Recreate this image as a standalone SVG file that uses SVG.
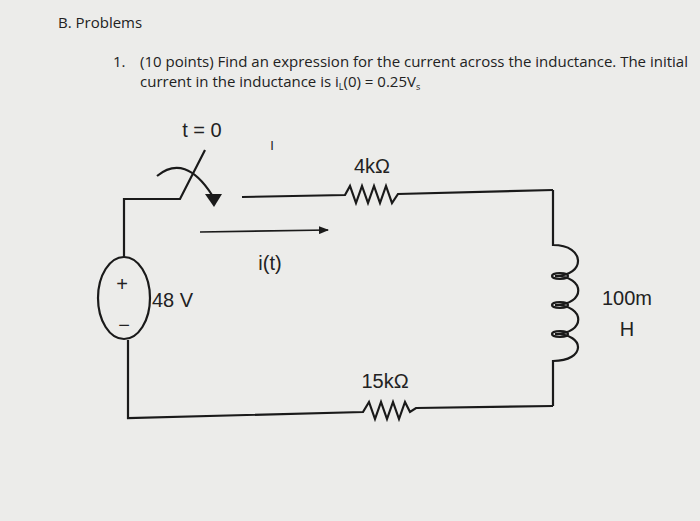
<svg xmlns="http://www.w3.org/2000/svg" width="700" height="521" viewBox="0 0 700 521">
<style>
.w{fill:none;stroke:#1a1a1a;stroke-width:2.2;stroke-linejoin:miter}
.t{font-family:"Liberation Sans",Arial,sans-serif;fill:#222}
.h{font-family:"Open Sans","Liberation Sans",sans-serif;fill:#222;font-size:15px}
</style>
<defs><marker id="ah" markerWidth="10" markerHeight="8" refX="9" refY="4" orient="auto" markerUnits="userSpaceOnUse"><path d="M0,0 L10,4 L0,8 Z" fill="#1a1a1a"/></marker></defs>
<rect width="700" height="521" fill="#ececea"/>
<text class="h" x="58" y="28">B. Problems</text>
<text class="h" x="113" y="67">1.</text>
<text class="h" x="140" y="67" textLength="548">(10 points) Find an expression for the current across the inductance. The initial</text>
<text class="h" x="140" y="87">current in the inductance is i<tspan font-size="9" dy="3">L</tspan><tspan dy="-3">(0) = 0.25V</tspan><tspan font-size="9" dy="3">s</tspan></text>
<text class="t" x="272" y="150" font-size="13" font-family="Liberation Serif,serif" text-anchor="middle">I</text>
<g id="source">
<ellipse class="w" cx="124" cy="298" rx="26" ry="41"/>
<text class="t" x="122" y="291" font-size="20" text-anchor="middle">+</text>
<text class="t" x="124" y="332" font-size="20" text-anchor="middle">−</text>
<text class="t" x="152" y="307" font-size="20">48 V</text>
</g>
<g id="switch">
<path class="w" d="M124,257 V199 H180 L205,150"/>
<path class="w" d="M157,176 Q185,153 212,195"/>
<path d="M205,194 L222,194 L214,207 Z" fill="#1a1a1a"/>
<text class="t" x="202" y="137" font-size="20" text-anchor="middle">t = 0</text>
</g>
<g id="r4k">
<path class="w" d="M242,197 L345,195 L350,186 L356,203 L362,186 L368,203 L374,186 L380,203 L386,186 L392,203 L398,194 L553,190"/>
<text class="t" x="372" y="173" font-size="20" text-anchor="middle">4kΩ</text>
</g>
<g id="inductor">
<path class="w" d="M553,190 V245 C586,245 586,276 555,276 C586,276 586,305 555,305 C586,305 586,334 555,334 C586,334 586,361 553,361 V406"/>
<ellipse class="w" cx="560" cy="276" rx="8" ry="3" stroke-width="1.6"/>
<ellipse class="w" cx="560" cy="305" rx="8" ry="3" stroke-width="1.6"/>
<ellipse class="w" cx="560" cy="334" rx="8" ry="3" stroke-width="1.6"/>
<text class="t" x="627" y="305" font-size="20" text-anchor="middle">100m</text>
<text class="t" x="627" y="336" font-size="20" text-anchor="middle">H</text>
</g>
<g id="r15k">
<path class="w" d="M553,406 L416,408 L410,412 L405,402 L399,419 L393,402 L387,419 L381,402 L375,419 L369,402 L363,412 L128,418 V340"/>
<text class="t" x="385" y="388" font-size="20" text-anchor="middle">15kΩ</text>
</g>
<g id="connectors">
<line x1="200" y1="232" x2="328" y2="230" stroke="#1a1a1a" stroke-width="1.6" marker-end="url(#ah)"/>
<text class="t" x="270" y="270" font-size="20" text-anchor="middle">i(t)</text>
</g>
</svg>
